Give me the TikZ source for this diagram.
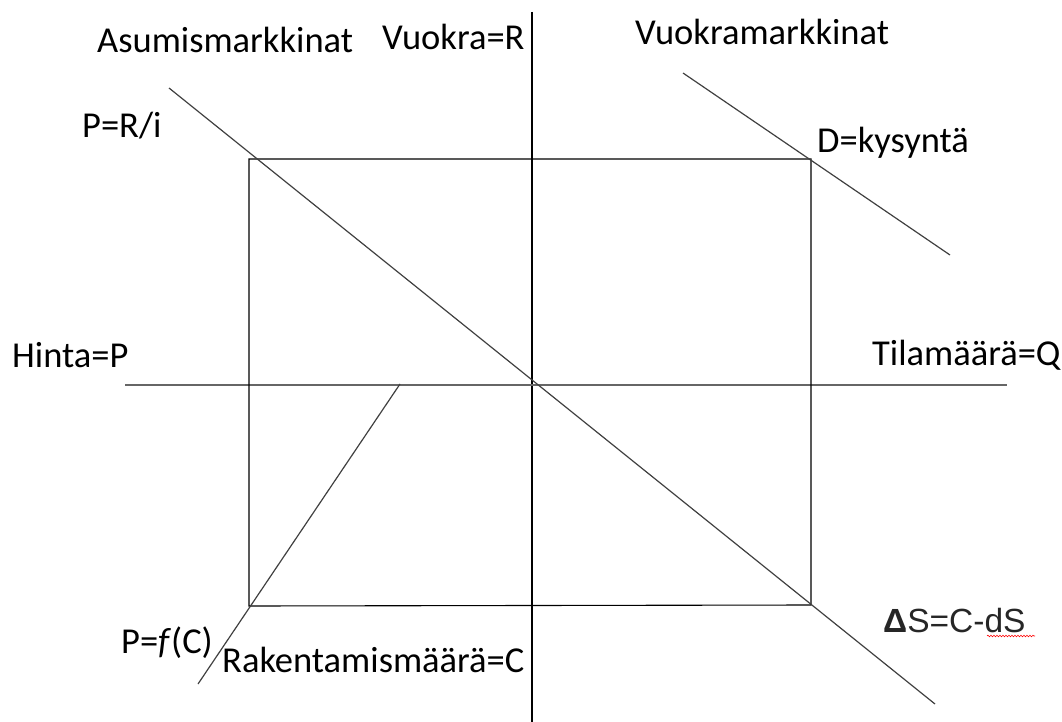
\documentclass[tikz,border=0pt]{standalone}
\usepackage{fontspec}
\setmainfont{Carlito}
\newfontfamily\arialfont{Liberation Sans}
\usetikzlibrary{decorations.pathmorphing}
\begin{document}
\begin{tikzpicture}[x=1pt,y=-1pt,
  lbl/.style={inner sep=0pt, anchor=base west, font=\fontsize{36.5}{44}\selectfont},
  axis/.style={draw=black, line width=1.1pt},
  haxis/.style={draw=black!60, line width=1.4pt},
  curve/.style={draw=black!75, line width=1.2pt},
  box/.style={draw=black, line width=1.1pt}]
\useasboundingbox (0,0) rectangle (1062,722);
% coordinates
\coordinate (vtop) at (532,12);
\coordinate (vbot) at (532,722);
\coordinate (hl) at (125,385);
\coordinate (hr) at (1007,385);
\coordinate (tl) at (249,159);
\coordinate (tr) at (811,159);
\coordinate (br) at (811,605);
\coordinate (bl) at (249,606);
\coordinate (d1a) at (169,88);
\coordinate (d1b) at (935,704);
\coordinate (d2a) at (683,73);
\coordinate (d2b) at (950,255);
\coordinate (c1a) at (400,384);
\coordinate (c1b) at (198,684);
% lines
\draw[axis] (vtop) -- (vbot);
\draw[haxis] (hl) -- (hr);
\draw[box] (tl) -- (tr) -- (br) -- (bl) -- cycle;
\draw[curve] (d1a) -- (d1b);
\draw[curve] (d2a) -- (d2b);
\draw[curve] (c1a) -- (c1b);
% labels
\node[lbl] (asu) at (97,53) {Asumismarkkinat};
\node[lbl] (vuo) at (382,50) {Vuokra=R};
\node[lbl] (vmk) at (635,45) {Vuokramarkkinat};
\node[lbl] (pri) at (82,138) {P=R/i};
\node[lbl] (dky) at (817,153) {D=kysyntä};
\node[lbl] (hin) at (12,367) {Hinta=P};
\node[lbl] (til) at (872,365) {Tilamäärä=Q};
\node[lbl, anchor=base east] (pfc) at (213,653) {P=\textit{f}(C)};
\node[lbl] (rak) at (222,672) {Rakentamismäärä=C};
\node[lbl, font=\arialfont\fontsize{33.5}{40}\selectfont, text=black!85] (ds) at (883,632) {\textbf{Δ}S=C-dS};
\coordinate (sq1) at (987,636);
\coordinate (sq2) at (1035,636);
\draw[red, line width=0.6pt, decorate, decoration={snake, amplitude=0.8pt, segment length=3pt}] (sq1) -- (sq2);
\end{tikzpicture}
\end{document}
